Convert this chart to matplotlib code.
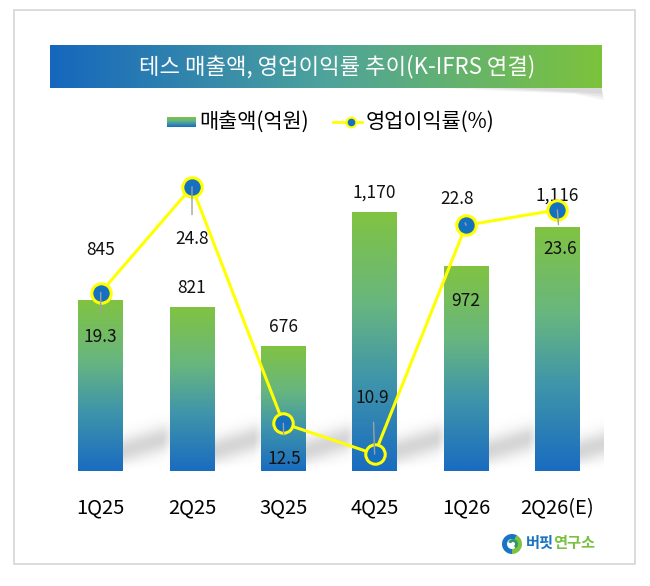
import matplotlib

matplotlib.use("Agg")
import matplotlib.pyplot as plt
import numpy as np
from matplotlib.colors import LinearSegmentedColormap
from matplotlib.patches import Rectangle, Polygon, Wedge

plt.rcParams["font.family"] = ["Noto Sans CJK KR", "DejaVu Sans"]

# --- data ---
quarters = ["1Q25", "2Q25", "3Q25", "4Q25", "1Q26", "2Q26(E)"]
sales = [845, 821, 676, 1170, 972, 1116]          # 매출액(억원)
margin = [19.3, 24.8, 12.5, 10.9, 22.8, 23.6]     # 영업이익률(%)

# label offsets (pixels) -- hand placed like the original
sales_off = [(0, 51), (0, 19), (0, 20), (0, 20), (0, -34), (0, 32)]
margin_off = [(0, -44), (0, -52), (1, -36), (-2, 56), (-9, 26), (3, -39)]

BLUE = "#1a6cc0"
GREEN = "#80c342"
bar_cmap = LinearSegmentedColormap.from_list(
    "bar", [(0, BLUE), (0.35, "#3f95aa"), (0.65, "#68b67f"), (1, GREEN)])
banner_cmap = LinearSegmentedColormap.from_list(
    "banner", [(0, "#1567bd"), (0.5, "#4ea39c"), (1, "#7cc33c")])

W, H = 650, 586
fig = plt.figure(figsize=(W / 100, H / 100), dpi=100)

# overlay axes in pixel coordinates for frame / banner / legend / logo
bg = fig.add_axes([0, 0, 1, 1], zorder=0)
bg.set_xlim(0, W)
bg.set_ylim(H, 0)
bg.axis("off")

bg.add_patch(Rectangle((14, 10), 621, 554, fill=False, ec="#d6d6d6", lw=1.2))

# banner with curled shadow
for k, a in enumerate([0.10, 0.12, 0.15]):
    bg.add_patch(Polygon([(440 + 30 * k, 88), (602, 88), (604 - k, 100 - 3 * k),
                          (575, 94 - k)],
                         closed=True, fc="#909090", ec="none", alpha=a))
grad = np.linspace(0, 1, 256).reshape(1, -1)
bg.imshow(grad, cmap=banner_cmap, extent=(50, 602, 88, 45), aspect="auto", zorder=1)
bg.text(337, 67, "테스 매출액, 영업이익률 추이(K-IFRS 연결)", color="white",
        fontsize=16, ha="center", va="center", zorder=2)

# legend
vgrad = np.linspace(1, 0, 64).reshape(-1, 1)
bg.imshow(vgrad, cmap=bar_cmap, extent=(167, 196, 127, 117), aspect="auto", zorder=1)
bg.text(199, 122, "매출액(억원)", fontsize=15, ha="left", va="center")
bg.plot([333, 362], [122, 122], color="#ffff00", lw=2)
bg.plot([351], [122], "o", ms=7, mfc="#1570c0", mec="#ffff00", mew=1.5)
bg.text(366, 122, "영업이익률(%)", fontsize=15, ha="left", va="center")

# logo
cx, cy = 512, 544
bg.add_patch(Wedge((cx, cy), 10, 90, 300, width=5, fc="#1b73c4", ec="none"))
bg.add_patch(Wedge((cx, cy), 10, 300, 90, width=5, fc="#7ec242", ec="none"))
bg.add_patch(Wedge((cx + 1, cy), 5, 200, 60, width=3, fc="#2e9a6a", ec="none"))
bg.text(526, 543, "버핏", color="#1b73c4", fontsize=11, fontweight="bold",
        ha="left", va="center")
bg.text(553, 543, "연구소", color="#7ac143", fontsize=11, fontweight="bold",
        ha="left", va="center")

# --- main chart ---
base_px, top_px = 471, 160
px_per_cat = 548 / len(quarters)
val_per_px = 1 / 0.2708
ax = fig.add_axes([55 / W, (H - base_px) / H, 548 / W, (base_px - top_px) / H], zorder=1)
ax.patch.set_alpha(0)
x = np.arange(len(quarters))
ymin = 217
ax.set_xlim(-0.5, len(quarters) - 0.5)
ax.set_ylim(ymin, ymin + (base_px - top_px) * val_per_px)

bw = 0.49
# soft diagonal shadow behind each bar (pixel grid)
gx = np.arange(-20, 56)
gy = np.arange(0, 64)
GX, GY = np.meshgrid(gx, gy)
centre = 20 + 0.30 * GX
alpha = 0.36 * np.exp(-((GY - centre) ** 2) / (2 * 9.5 ** 2))
alpha *= np.clip((54 - GX) / 14, 0, 1)
alpha *= np.clip(GY / 8, 0, 1)
shadow = np.zeros(GX.shape + (4,))
shadow[..., :3] = 0.55
shadow[..., 3] = alpha

for i, v in enumerate(sales):
    x1 = i + bw / 2
    ax.imshow(shadow, origin="lower", aspect="auto", zorder=1, interpolation="bilinear",
              extent=(x1 + gx[0] / px_per_cat, x1 + gx[-1] / px_per_cat,
                      ymin, ymin + gy[-1] * val_per_px))
    ax.bar(i, v - ymin, bw, bottom=ymin, color="none", zorder=2)
    ax.imshow(np.linspace(1, 0, 128).reshape(-1, 1), cmap=bar_cmap,
              extent=(i - bw / 2, i + bw / 2, ymin, v), aspect="auto", zorder=2)
    ax.annotate(f"{v:,}", (i, v), xytext=sales_off[i], textcoords="offset pixels",
                ha="center", va="center", fontsize=12.5, color="#111111", zorder=6)

ax.set_xticks(x, quarters, fontsize=14.5)
ax.tick_params(axis="x", length=0, pad=19)
ax.set_yticks([])
for s in ax.spines.values():
    s.set_visible(False)

ax2 = ax.twinx()
ax2.set_ylim(10.02, 10.02 + (base_px - top_px) / 19.23)
ax2.plot(x, margin, color="#ffff00", lw=2.2, marker="o", ms=14,
         mfc="#1570c0", mec="#ffff00", mew=2.2, zorder=4)
for i, v in enumerate(margin):
    ax2.annotate(f"{v}", (i, v), xytext=margin_off[i], textcoords="offset pixels",
                 ha="center", va="center", fontsize=12.5, color="#111111", zorder=6,
                 arrowprops=dict(arrowstyle="-", color="#a0a0a0", lw=1,
                                 shrinkA=9, shrinkB=0))
ax2.set_yticks([])
for s in ax2.spines.values():
    s.set_visible(False)

fig.savefig("out.png", dpi=100)
